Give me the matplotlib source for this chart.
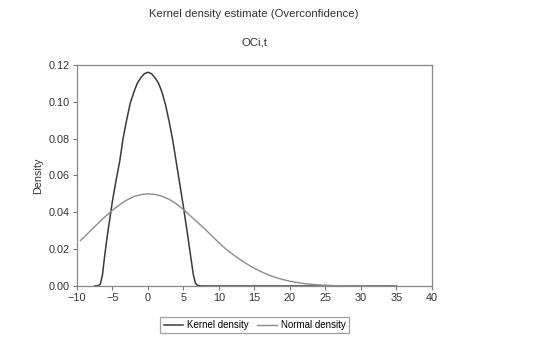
import numpy as np
from matplotlib import pyplot as plt
from matplotlib.ticker import FormatStrFormatter

plt.rcParams['font.family'] = ['Liberation Sans', 'DejaVu Sans']

# Kernel density
kernel_x = [-7.5, -7.0, -6.7, -6.4, -6.1, -5.8, -5.5, -5.0, -4.5, -4.0, -3.5, -3.0,
            -2.5, -2.0, -1.5, -1.0, -0.5, 0.0, 0.5, 1.0, 1.5, 2.0, 2.5, 3.0, 3.5,
            4.0, 4.5, 5.0, 5.5, 5.8, 6.1, 6.4, 6.7, 7.0, 7.5, 10, 15, 20, 25, 30, 35]
kernel_y = [0, 0.0002, 0.001, 0.006, 0.016, 0.025, 0.033, 0.046, 0.057, 0.067, 0.080, 0.090,
            0.099, 0.105, 0.110, 0.113, 0.1152, 0.116, 0.1152, 0.113, 0.110, 0.105, 0.098, 0.089, 0.079,
            0.067, 0.055, 0.043, 0.030, 0.022, 0.014, 0.006, 0.0015, 0.0003, 0, 0, 0, 0, 0, 0, 0]

# Normal density
normal_x = [-9.5, -9, -8, -7, -6, -5, -4, -3, -2, -1, 0, 1, 2, 3, 4, 5, 6, 7, 8, 9,
            10, 11, 12, 13, 14, 15, 16, 17, 18, 19, 20, 22, 24, 26, 28, 30, 35]
normal_y = [0.0247, 0.0265, 0.0303, 0.0341, 0.0377, 0.0411, 0.0441, 0.0466, 0.0485, 0.0496,
            0.0500, 0.0497, 0.0487, 0.0470, 0.0446, 0.0415, 0.0380, 0.0345, 0.0310, 0.0272,
            0.0235, 0.0200, 0.0170, 0.0143, 0.0118, 0.0096, 0.0077, 0.0060, 0.0046, 0.0035,
            0.0026, 0.0013, 0.0006, 0.00025, 0.0001, 0.00004, 0.0]

fig = plt.figure(figsize=(5.34, 3.45), dpi=100)
ax = fig.add_axes([0.144, 0.171, 0.665, 0.641])

ax.plot(kernel_x, kernel_y, color='#3a3a3a', lw=1.1, label='Kernel density')
ax.plot(normal_x, normal_y, color='#8c8c8c', lw=1.0, label='Normal density')

ax.set_xlim(-10, 40)
ax.set_ylim(0, 0.12)
ax.set_xticks(np.arange(-10, 41, 5))
ax.set_yticks(np.arange(0, 0.121, 0.02))
ax.yaxis.set_major_formatter(FormatStrFormatter('%.2f'))
ax.tick_params(labelsize=7.8, length=3, width=0.8, color='#777777', labelcolor='#333333', pad=2)
for s in ax.spines.values():
    s.set_color('#888888')
    s.set_linewidth(0.9)

ax.set_ylabel('Density', fontsize=7.8, color='#333333', labelpad=4)

fig.text(0.476, 0.958, 'Kernel density estimate (Overconfidence)', ha='center', va='center',
         fontsize=8.2, color='#333333')
fig.text(0.476, 0.878, 'OCi,t', ha='center', va='center', fontsize=8.2, color='#333333')

leg = ax.legend(loc='center', bbox_to_anchor=(0.5, -0.176), ncol=2, fontsize=7.0,
                frameon=True, fancybox=False, handlelength=2.0, handletextpad=0.4,
                columnspacing=0.9, borderpad=0.35)
leg.get_frame().set_edgecolor('#888888')
leg.get_frame().set_linewidth(0.9)

plt.savefig('out.png', dpi=100)
